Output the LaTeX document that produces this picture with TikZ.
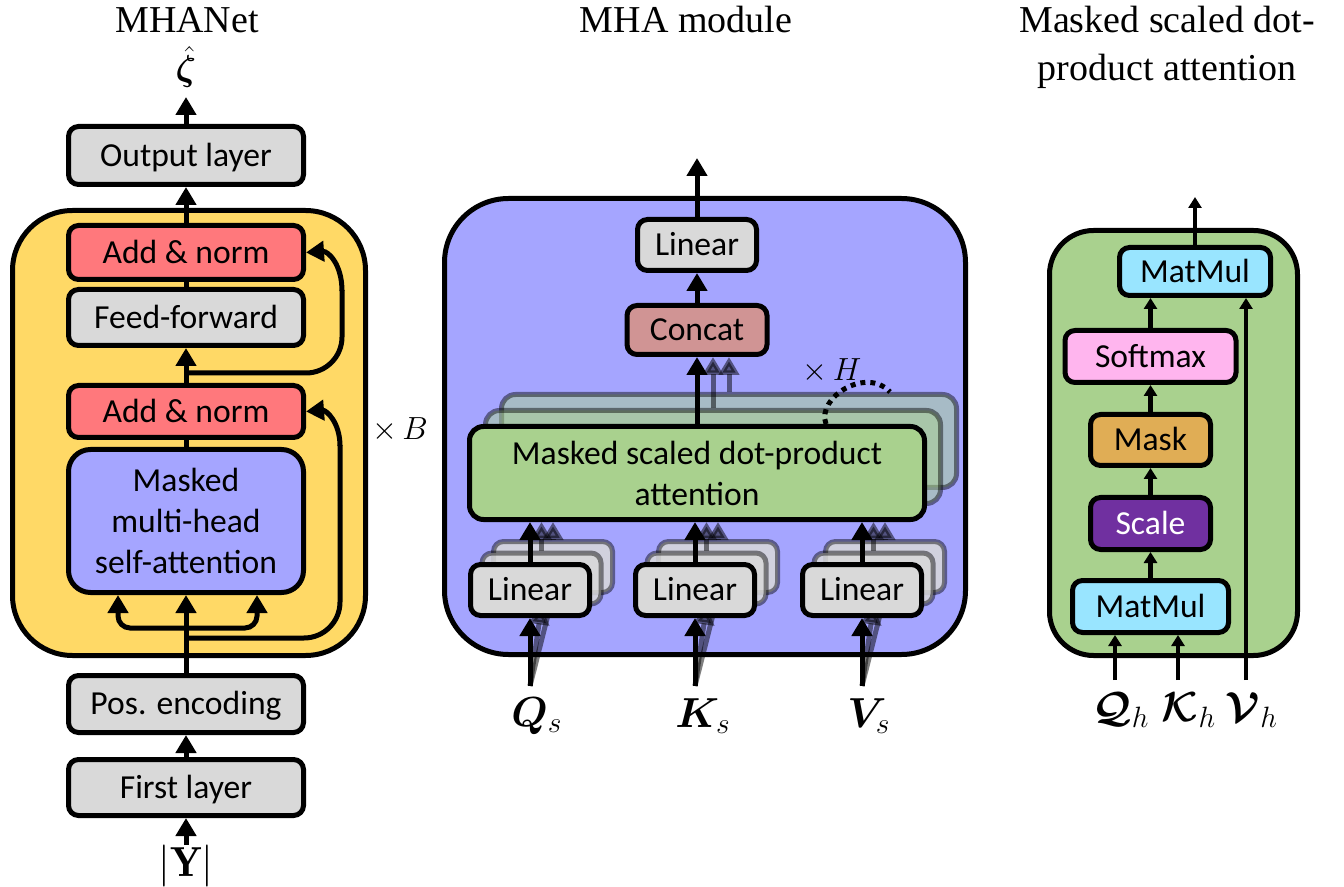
\RequirePackage{fix-cm}
\documentclass[tikz,border=0pt]{standalone}
\usepackage{fontspec}
\usepackage{amsmath}
\usepackage{bm}
\usetikzlibrary{arrows.meta,calc}
\newfontfamily\boxfont{Carlito}
\newfontfamily\ttlfont{Liberation Serif}
\definecolor{cyel}{HTML}{FFD966}
\definecolor{cred}{HTML}{FF787C}
\definecolor{cgray}{HTML}{D9D9D9}
\definecolor{cblue}{HTML}{A5A5FF}
\definecolor{cgreen}{HTML}{A9D18E}
\definecolor{cconcat}{HTML}{D09494}
\definecolor{ccyan}{HTML}{99E5FF}
\definecolor{cpink}{HTML}{FFB5EE}
\definecolor{cmask}{HTML}{E0AD55}
\definecolor{cpurple}{HTML}{7030A0}
\newcommand\mybxfont{\boxfont\fontsize{16.8}{20.5}\selectfont}
\begin{document}
\begin{tikzpicture}[x=0.5pt,y=-0.5pt,
  box/.style={draw=black,line width=2.5pt,rounded corners=5pt,inner sep=0pt,align=center,font=\mybxfont},
  one/.style={text height=13pt,text depth=2.2pt},
  lbox/.style={box,one,fill=cgray,minimum width=117.5pt},
  cont/.style={draw=black,line width=2.5pt,inner sep=0pt},
  arr/.style={line width=2.5pt,-{Triangle[width=10pt,length=9pt]}},
  ln/.style={line width=2.5pt},
  sarr/.style={line width=2.2pt,-{Triangle[width=6.5pt,length=5.5pt]}},
  shd/.style={opacity=0.5},
  ttl/.style={font=\ttlfont\fontsize{19}{24}\selectfont,inner sep=0pt,anchor=base},
  lbl/.style={font=\fontsize{21}{25}\selectfont,inner sep=0pt},
  mlbl/.style={font=\fontsize{16}{19}\selectfont,inner sep=0pt},
  msdsh/.style={box,rounded corners=7pt,fill=cgreen,fill opacity=0.5,draw opacity=0.45,minimum width=227.5pt,minimum height=46.5pt},
  linsh/.style={box,fill=cgray,fill opacity=0.85,draw opacity=0.45,minimum width=59.5pt,minimum height=25.5pt},
  linbox/.style={box,one,fill=cgray,minimum width=59.5pt,minimum height=25.5pt},
  rbox/.style={box,one,minimum height=25.5pt}
]
\useasboundingbox (0,0) rectangle (1344,887);

%================ MHANet =================
\node[ttl] (t1) at (187,33) {MHANet};
\node[cont,fill=cyel,rounded corners=30pt,minimum width=176.5pt,minimum height=222.5pt] (yel) at (189,433) {};

\node[lbox,minimum height=29pt] (out) at (186,155.5) {Output layer};
\node[lbox,fill=cred,minimum height=27pt] (an2) at (186,252.5) {Add \& norm};
\node[lbox,minimum height=28pt] (ff) at (186,317.5) {Feed-forward};
\node[lbox,fill=cred,minimum height=26pt] (an1) at (186,411.5) {Add \& norm};
\node[box,fill=cblue,rounded corners=11pt,minimum width=117.5pt,minimum height=71.5pt] (mh) at (186,521) {Masked\\multi-head\\self-attention};
\node[lbox,minimum height=28.5pt] (pos) at (186,704) {Pos. encoding};
\node[lbox,minimum height=28pt] (fl) at (186,787.5) {First layer};

\node[inner sep=0pt,font=\fontsize{18}{22}\selectfont,anchor=south] (zeta) at (186,88) {$\hat{\bm{\zeta}}$};
\node[lbl] (yabs) at (186,866) {$|\mathbf{Y}|$};
\node[mlbl] (xb) at (400,430) {$\times\,B$};

\coordinate (zin) at (186,97);
\coordinate (yin) at (186,845);
\coordinate (r1) at (186,373);
\coordinate (r2) at (186,638);
\coordinate (s0) at (186,628);

\draw[arr] (out.north) -- (zin);
\draw[arr] (an2.north) -- (out.south);
\draw[ln] (ff.north) -- (an2.south);
\draw[arr] (an1.north) -- (ff.south);
\draw[ln] (mh.north) -- (an1.south);
\draw[arr] (pos.north) -- (mh.south);
\draw[arr] (fl.north) -- (pos.south);
\draw[arr] (yin) -- (fl.south);
\draw[arr,rounded corners=6pt] (s0) -| ($(mh.south)+(-68,0)$);
\draw[arr,rounded corners=6pt] (s0) -| ($(mh.south)+(71,0)$);
\draw[ln,rounded corners=18pt] (r1) -- (342,373) -- (342,290);
\draw[arr] (342,291) .. controls (342,264) and (328,251) .. (an2.east);
\draw[ln,rounded corners=18pt] (r2) -- (340,638) -- (340,445);
\draw[arr] (340,446) .. controls (340,422) and (326,410) .. (an1.east);

%================ MHA module =================
\node[ttl] (t2) at (686,33) {MHA module};
\node[cont,fill=cblue,rounded corners=32pt,minimum width=260.5pt,minimum height=228pt] (blu) at (705,426.5) {};

\node[msdsh] (ms2) at (729,441) {};
\node[msdsh] (ms1) at (713,457) {};
\node[box,fill=cgreen,rounded corners=7pt,minimum width=227.5pt,minimum height=46.5pt] (msd) at (697,473) {Masked scaled dot-product\\attention};
\node[box,one,fill=cconcat,minimum width=70pt,minimum height=24.5pt] (cc) at (697,330) {Concat};
\node[linbox] (lt) at (697,245) {Linear};

\draw[arr,shd] (ms2.north -| 729,0) -- ($(cc.south)+(32,0)$);
\draw[arr,shd] (ms1.north -| 713,0) -- ($(cc.south)+(16,0)$);
\draw[arr] (msd.north) -- (cc.south);
\draw[arr] (cc.north) -- (lt.south);
\coordinate (mout) at (697,158);
\draw[arr] (lt.north) -- (mout);

\coordinate (h1) at (826,424);
\coordinate (h2) at (890,392);
\draw[line width=2.5pt,dash pattern=on 2.5pt off 2.5pt] (h1) .. controls (816,398) and (866,366) .. (h2);
\node[mlbl] (xh) at (832,371) {$\times\,H$};

% linear boxes Q K V
\foreach \nm/\xx in {q/530,k/695,v/862}{
  \coordinate (\nm in) at (\xx,686);
  \node[linsh] (l\nm 2) at (\xx+23,567) {};
  \node[linsh] (l\nm 1) at (\xx+11.5,578.5) {};
  \draw[arr,shd] (\nm in) -- (l\nm 2.south);
  \draw[arr,shd] (\nm in) -- (l\nm 1.south);
  \draw[arr,shd] (l\nm 2.north) -- (l\nm 2.north |- msd.south);
  \draw[arr,shd] (l\nm 1.north) -- (l\nm 1.north |- msd.south);
  \node[linbox] (l\nm) at (\xx,590) {Linear};
  \draw[arr] (l\nm.north) -- (l\nm.north |- msd.south);
  \draw[arr] (\nm in) -- (l\nm.south);
}
\node[lbl] (qs) at (537,716) {$\bm{Q}_s$};
\node[lbl] (ks) at (703,716) {$\bm{K}_s$};
\node[lbl] (vs) at (869,716) {$\bm{V}_s$};

%================ Masked scaled dot-product attention =================
\node[ttl] (t3a) at (1167,33) {Masked scaled dot-};
\node[ttl] (t3b) at (1167,81) {product attention};
\node[cont,fill=cgreen,rounded corners=22pt,minimum width=124pt,minimum height=212.5pt] (grn) at (1173.5,443) {};

\node[rbox,fill=ccyan,minimum width=75.5pt,minimum height=24pt] (mm2) at (1195,271.5) {MatMul};
\node[rbox,fill=cpink,minimum width=85.5pt,minimum height=26pt] (sm) at (1150.5,356.5) {Softmax};
\node[rbox,fill=cmask,minimum width=60pt] (mk) at (1150.5,440) {Mask};
\node[rbox,fill=cpurple,text=white,minimum width=60pt,minimum height=26pt] (sc) at (1150.5,523.5) {Scale};
\node[rbox,fill=ccyan,minimum width=78pt,minimum height=26pt] (mm1) at (1150.5,606.5) {MatMul};

\coordinate (rout) at (1195,197);
\coordinate (qh) at (1115,680);
\coordinate (kh) at (1178,680);
\coordinate (vh) at (1246,680);
\draw[sarr] (mm2.north) -- (rout);
\draw[sarr] (sm.north) -- (sm.north |- mm2.south);
\draw[sarr] (mk.north) -- (sm.south);
\draw[sarr] (sc.north) -- (mk.south);
\draw[sarr] (mm1.north) -- (sc.south);
\draw[sarr] (qh) -- (qh |- mm1.south);
\draw[sarr] (kh) -- (kh |- mm1.south);
\draw[sarr] (vh) -- (vh |- mm2.south);

\node[lbl] (lqh) at (1121,710) {$\bm{\mathcal{Q}}_h$};
\node[lbl] (lkh) at (1189,710) {$\bm{\mathcal{K}}_h$};
\node[lbl] (lvh) at (1252,710) {$\bm{\mathcal{V}}_h$};
\end{tikzpicture}
\end{document}
